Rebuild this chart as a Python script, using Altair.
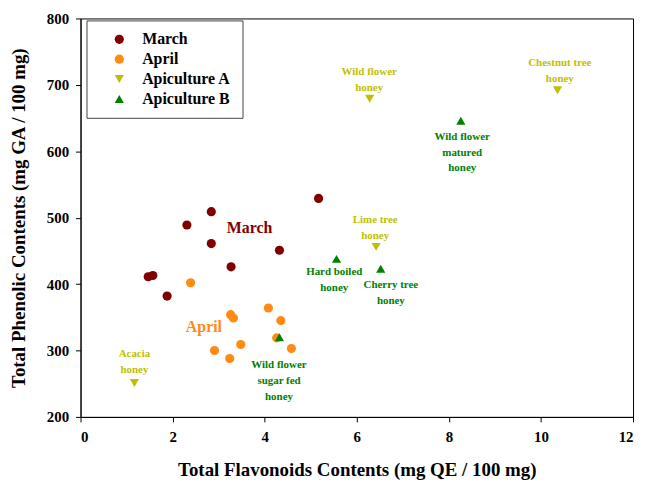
import altair as alt
import pandas as pd

# ---- data ----
series = ["March", "April", "Apiculture A", "Apiculture B"]
colors = ["#800000", "#ff8a14", "#bfbf00", "#008000"]
shapes = ["circle", "circle", "triangle-down", "triangle-up"]

march_x = [1.47, 1.57, 1.88, 2.31, 2.84, 2.84, 3.27, 4.32, 5.17]
march_y = [411, 413, 382, 489, 509, 461, 426, 451, 529]

april_x = [2.39, 3.26, 3.32, 4.08, 4.35, 4.26, 3.48, 4.58, 2.91, 3.24]
april_y = [402, 354, 349, 364, 345, 319, 309, 303, 300, 288]

apiA_names = ["Acacia\nhoney", "Wild flower\nhoney", "Chestnut tree\nhoney", "Lime tree\nhoney"]
apiA_x = [1.17, 6.28, 10.36, 6.42]
apiA_y = [251, 679, 692, 456]
apiA_label_x = [1.17, 6.27, 10.41, 6.40]
apiA_label_y = [295, 719, 733, 496]

apiB_names = ["Wild flower\nmatured\nhoney", "Hard boiled\nhoney", "Cherry tree\nhoney",
              "Wild flower\nsugar fed\nhoney"]
apiB_x = [8.26, 5.56, 6.52, 4.32]
apiB_y = [646, 438, 423, 320]
apiB_label_x = [8.29, 5.51, 6.74, 4.31]
apiB_label_y = [622, 418, 398, 278]

group_labels = ["March", "April"]
group_label_x = [3.67, 2.68]
group_label_y = [485, 336]

x_ticks = [0, 2, 4, 6, 8, 10, 12]
y_ticks = [200, 300, 400, 500, 600, 700, 800]

# ---- tables ----
rows = []
for sx, sy, name in [(march_x, march_y, "March"), (april_x, april_y, "April"),
                     (apiA_x, apiA_y, "Apiculture A"), (apiB_x, apiB_y, "Apiculture B")]:
    for a, b in zip(sx, sy):
        rows.append({"x": a, "y": b, "series": name})
points = pd.DataFrame(rows)

lab_rows = []
for names, lx, ly, name in [(apiA_names, apiA_label_x, apiA_label_y, "Apiculture A"),
                            (apiB_names, apiB_label_x, apiB_label_y, "Apiculture B")]:
    for t, a, b in zip(names, lx, ly):
        lab_rows.append({"x": a, "y": b, "label": t, "series": name})
labels = pd.DataFrame(lab_rows)

groups = pd.DataFrame({"x": group_label_x, "y": group_label_y,
                       "label": group_labels, "series": group_labels})

FONT = "Liberation Serif"

xenc = alt.X("x:Q", scale=alt.Scale(domain=[0, 12], nice=False, zero=False),
             axis=alt.Axis(values=x_ticks, title="Total Flavonoids Contents (mg QE / 100 mg)",
                           titlePadding=16, labelPadding=8))
yenc = alt.Y("y:Q", scale=alt.Scale(domain=[200, 800], nice=False, zero=False),
             axis=alt.Axis(values=y_ticks, title="Total Phenolic Contents (mg GA / 100 mg)",
                           titlePadding=18, labelPadding=7))

cscale = alt.Scale(domain=series, range=colors)
sscale = alt.Scale(domain=series, range=shapes)


def make_legend():
    return alt.Legend(orient="none", legendX=6, legendY=2, title=None,
                      padding=11, symbolOffset=14, labelOffset=15,
                      rowPadding=4, symbolSize=85,
                      strokeColor="#444444", fillColor="white",
                      labelFont=FONT, labelFontSize=16,
                      labelFontWeight="bold", labelColor="black",
                      labelExpr="datum.label + '\u00a0\u00a0\u00a0\u00a0\u00a0\u00a0\u00a0'")


pts = alt.Chart(points).mark_point(filled=True, opacity=1, size=85).encode(
    x=xenc, y=yenc,
    color=alt.Color("series:N", scale=cscale, sort=series, title=None, legend=make_legend()),
    shape=alt.Shape("series:N", scale=sscale, sort=series, title=None, legend=make_legend()),
)

txt = alt.Chart(labels).mark_text(font=FONT, fontSize=11, fontWeight="bold",
                                  lineBreak="\n", lineHeight=16, baseline="middle",
                                  align="center").encode(
    x="x:Q", y="y:Q", text="label:N",
    color=alt.Color("series:N", scale=cscale, legend=None),
)

grp = alt.Chart(groups).mark_text(font=FONT, fontSize=16, fontWeight="bold",
                                  baseline="middle", align="center").encode(
    x="x:Q", y="y:Q", text="label:N",
    color=alt.Color("series:N", scale=cscale, legend=None),
)

chart = alt.layer(pts, txt, grp).properties(
    width=556, height=401,
    background="white",
    autosize=alt.AutoSizeParams(type="none"),
    padding={"left": 73, "top": 9, "right": 5, "bottom": 66},
).configure_view(stroke="black", strokeWidth=1).configure_axis(
    grid=False, domainColor="black", domainWidth=1, tickColor="black", tickSize=5,
    labelFont=FONT, labelFontSize=15, labelFontWeight="bold", labelColor="black",
    titleFont=FONT, titleFontSize=19, titleFontWeight="bold", titleColor="black",
)

chart.save("out.html", embed_options={"renderer": "svg", "actions": False})
